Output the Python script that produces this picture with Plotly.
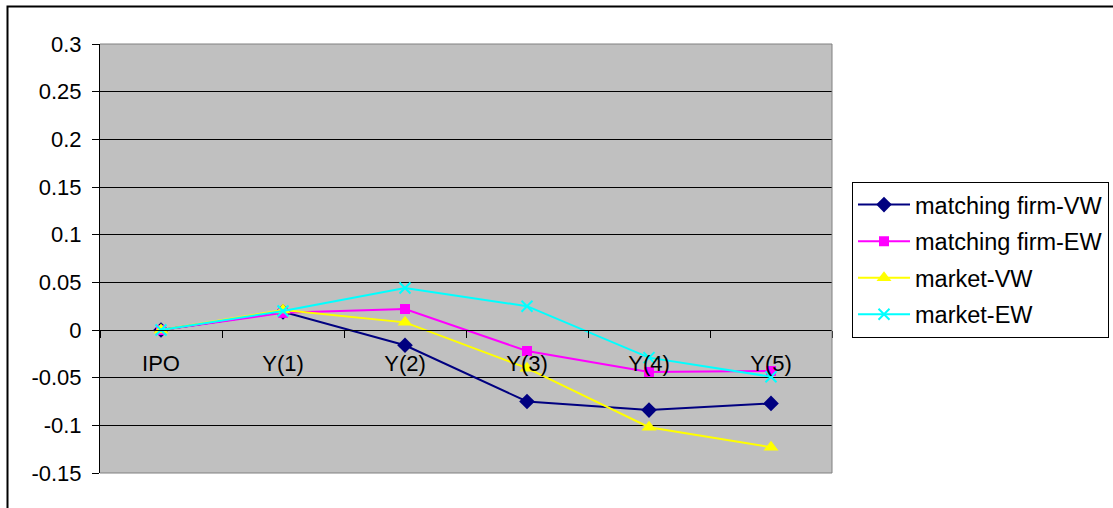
import plotly.graph_objects as go

categories = ["IPO", "Y(1)", "Y(2)", "Y(3)", "Y(4)", "Y(5)"]
mf_vw = [0.0, 0.019, -0.016, -0.075, -0.084, -0.077]
mf_ew = [0.0, 0.018, 0.022, -0.022, -0.044, -0.043]
mk_vw = [0.0, 0.021, 0.008, -0.040, -0.102, -0.123]
mk_ew = [0.0, 0.020, 0.044, 0.025, -0.029, -0.049]
series_names = ["matching firm-VW", "matching firm-EW", "market-VW", "market-EW"]
y_tickvals = [0.3, 0.25, 0.2, 0.15, 0.1, 0.05, 0, -0.05, -0.1, -0.15]
y_ticktext = ["0.3", "0.25", "0.2", "0.15", "0.1", "0.05", "0", "-0.05", "-0.1", "-0.15"]

FONT = "Arial, Liberation Sans, sans-serif"
W, H = 1113, 508
L, R, T, B = 100, 832, 44, 473.5

fig = go.Figure()
styles = [
    dict(color="#000080", symbol="diamond", size=12, lw=0),
    dict(color="#FF00FF", symbol="square", size=10, lw=0),
    dict(color="#FFFF00", symbol="triangle-up", size=13, lw=0),
    dict(color="#00FFFF", symbol="x-thin", size=11, lw=2),
]
for name, vals, st in zip(series_names, [mf_vw, mf_ew, mk_vw, mk_ew], styles):
    marker = dict(color=st["color"], symbol=st["symbol"], size=st["size"])
    if st["lw"]:
        marker["line"] = dict(color=st["color"], width=st["lw"])
    fig.add_trace(go.Scatter(
        x=categories, y=vals, name=name, mode="lines+markers",
        line=dict(color=st["color"], width=2), marker=marker,
        legendgroup=name,
    ))

def px2x(p):
    return (p - L) / (R - L)

def px2y(p):
    return (B - p) / (B - T)

shapes = [
    dict(type="path", xref="paper", yref="paper",
         path="M 0 1 L 1 1 L 1 0 L 0 0", line=dict(color="#808080", width=1), layer="above"),
    dict(type="rect", xref="paper", yref="paper",
         x0=px2x(7.5), x1=px2x(1125), y0=px2y(520), y1=px2y(6.5),
         line=dict(color="black", width=2), fillcolor="rgba(0,0,0,0)", layer="below"),
]

fig.update_layout(
    width=W, height=H,
    margin=dict(l=L, r=W - R, t=T, b=H - B, pad=0, autoexpand=False),
    paper_bgcolor="white", plot_bgcolor="#C0C0C0",
    font=dict(family=FONT, size=22, color="black"),
    showlegend=True,
    legend=dict(
        x=px2x(852), y=px2y(182), xanchor="left", yanchor="top",
        bgcolor="white", bordercolor="black", borderwidth=1,
        font=dict(family=FONT, size=23.5, color="black"),
        tracegroupgap=3, traceorder="grouped", itemwidth=52,
    ),
    shapes=shapes,
    xaxis=dict(
        type="category", categoryorder="array", categoryarray=categories,
        range=[-0.5, 5.5],
        anchor="free", position=0.15 / 0.45,
        showline=True, linecolor="black", linewidth=1,
        showgrid=False, zeroline=False,
        ticks="outside", tickson="boundaries", ticklen=7, tickcolor="black", tickwidth=1,
        ticklabelstandoff=14,
        tickfont=dict(family=FONT, size=22, color="black"),
    ),
    yaxis=dict(
        range=[-0.15, 0.3], domain=[0, 1],
        tickvals=y_tickvals, ticktext=y_ticktext,
        showline=True, linecolor="black", linewidth=1,
        showgrid=True, gridcolor="black", gridwidth=1,
        zeroline=True, zerolinecolor="black", zerolinewidth=1,
        ticks="outside", ticklen=7, tickcolor="black", tickwidth=1,
        ticklabelstandoff=6,
        tickfont=dict(family=FONT, size=22, color="black"),
    ),
)

fig.write_html("out.html")
